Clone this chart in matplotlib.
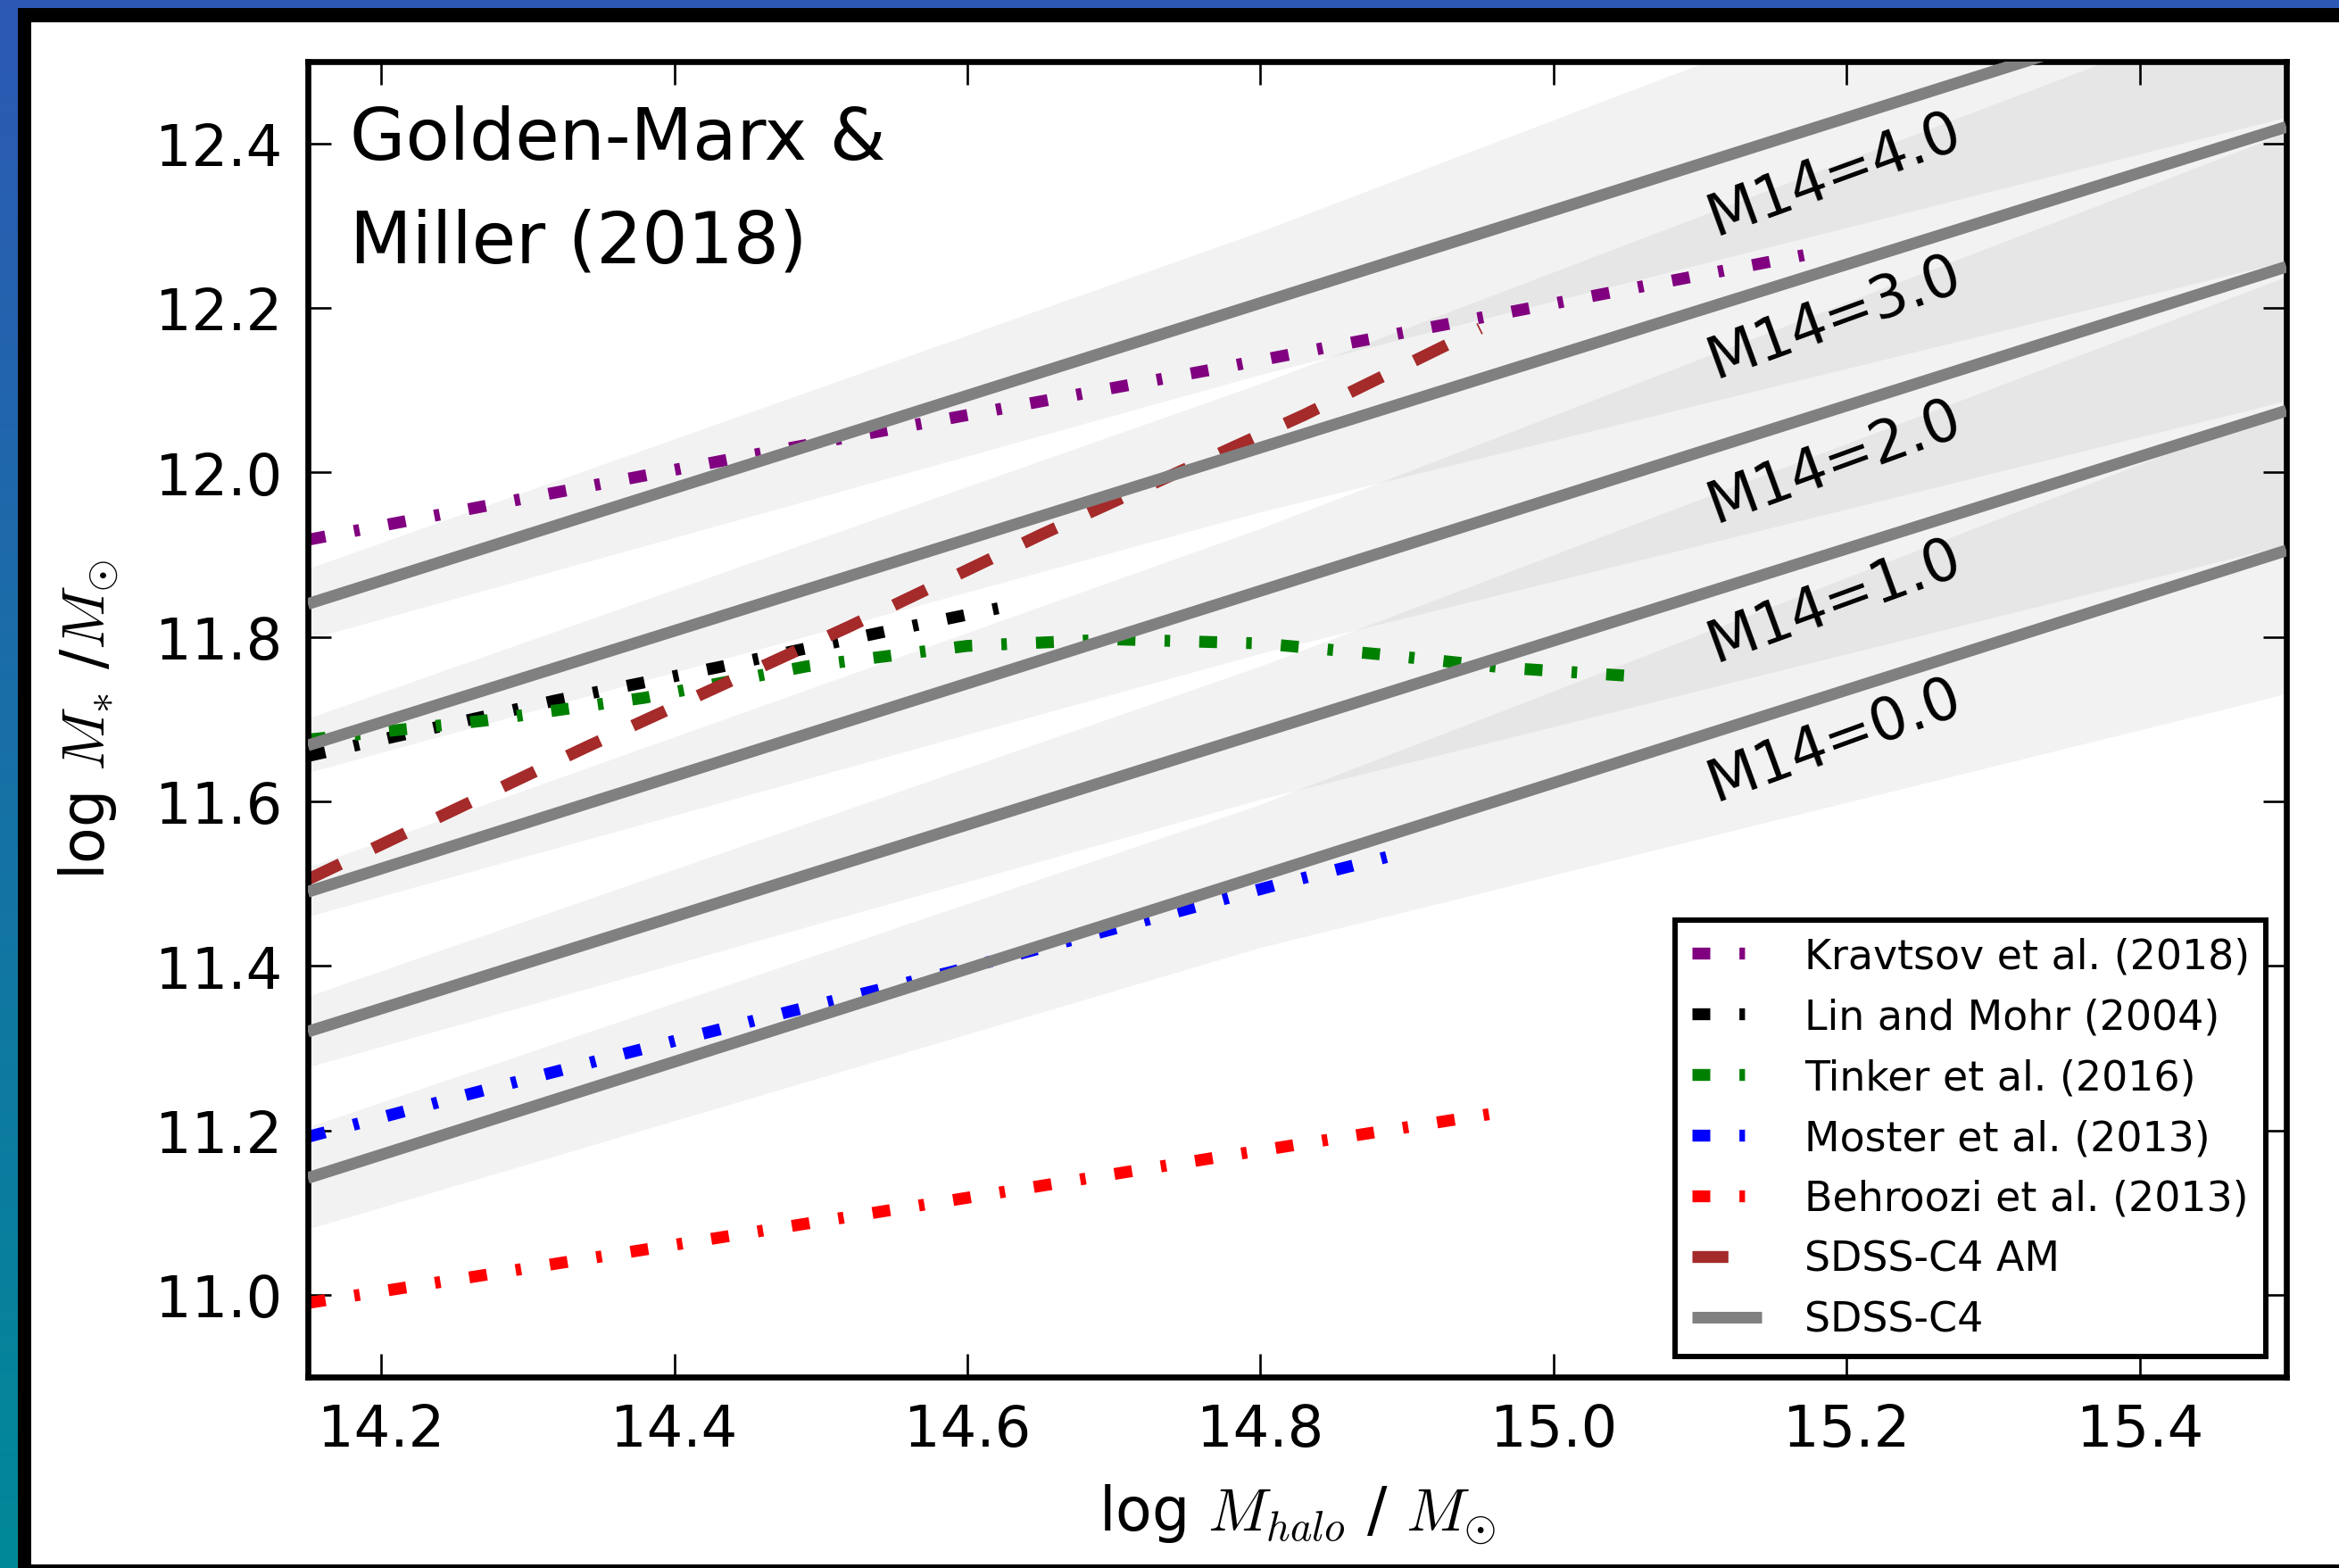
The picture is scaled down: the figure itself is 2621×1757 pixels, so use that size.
import numpy as np
import matplotlib
matplotlib.use('Agg')
import matplotlib.pyplot as plt
from matplotlib.ticker import MultipleLocator

plt.rcParams['font.family'] = ['DejaVu Sans']
plt.rcParams['mathtext.fontset'] = 'cm'
plt.rcParams['lines.scale_dashes'] = False

# SDSS-C4 relation, one straight line per magnitude gap M14
m14_values = [0.0, 1.0, 2.0, 3.0, 4.0]
c4_x = [14.15, 15.5]
c4_y = [[11.142, 11.905],
        [11.320, 12.075],
        [11.490, 12.250],
        [11.668, 12.420],
        [11.840, 12.600]]
# half width of the shaded band around each line
band_x = [14.15, 14.8, 15.5]
band_hw = [[0.062, 0.087, 0.174],
           [0.043, 0.081, 0.163],
           [0.030, 0.076, 0.163],
           [0.033, 0.078, 0.163],
           [0.043, 0.087, 0.168]]
# label positions for the M14 annotations
m14_lab_x = [15.192, 15.192, 15.192, 15.192, 15.192]
m14_lab_y = [11.674, 11.844, 12.013, 12.189, 12.363]

kravtsov_x = [14.15, 14.45, 14.77, 15.185]
kravtsov_y = [11.918, 12.020, 12.126, 12.269]
linmohr_x = [14.15, 14.32, 14.43, 14.54, 14.63]
linmohr_y = [11.655, 11.723, 11.763, 11.805, 11.838]
tinker_x = [14.15, 14.27, 14.38, 14.49, 14.60, 14.70, 14.80, 14.88, 14.97, 15.065]
tinker_y = [11.675, 11.698, 11.726, 11.764, 11.789, 11.797, 11.792, 11.779, 11.762, 11.751]
moster_x = [14.15, 14.26, 14.37, 14.48, 14.59, 14.70, 14.81, 14.89]
moster_y = [11.192, 11.244, 11.295, 11.345, 11.393, 11.445, 11.498, 11.534]
behroozi_x = [14.15, 14.38, 14.60, 14.77, 14.968]
behroozi_y = [10.990, 11.055, 11.118, 11.167, 11.223]
am_x = [14.15, 14.34, 14.52, 14.65, 14.83, 14.95]
am_y = [11.505, 11.666, 11.813, 11.924, 12.070, 12.175]

W, H = 2621, 1758
fig = plt.figure(figsize=(W / 100, H / 100), dpi=100, facecolor='white')

# slide decoration: blue gradient strips and black frame
bg = fig.add_axes([0, 0, 1, 1], zorder=-10)
bg.set_xlim(0, W)
bg.set_ylim(H, 0)
bg.axis('off')
grad = np.linspace(0, 1, 256)[:, None]
top_c = np.array([45, 89, 180]) / 255.
bot_c = np.array([0, 137, 152]) / 255.
strip = top_c[None, None, :] * (1 - grad[:, :, None]) + bot_c[None, None, :] * grad[:, :, None]
bg.imshow(strip, extent=(0, 20, H, 0), aspect='auto')
bg.add_patch(plt.Rectangle((0, 0), W, 10, color=top_c, lw=0))
bg.add_patch(plt.Rectangle((20, 10), W - 20, 16, color='black', lw=0))
bg.add_patch(plt.Rectangle((20, 10), 15, H - 10, color='black', lw=0))
bg.add_patch(plt.Rectangle((20, H - 4), W - 20, 4, color='black', lw=0))

ax = fig.add_axes([345 / W, 1 - 1544 / H, (2562 - 345) / W, (1544 - 69.5) / H])

dd = (0, (14.4, 23.5, 4.5, 23.5))
lw = 9.6
h_k, = ax.plot(kravtsov_x, kravtsov_y, color='purple', lw=lw, ls=dd,
               label='Kravtsov et al. (2018)')
h_l, = ax.plot(linmohr_x, linmohr_y, color='black', lw=lw, ls=dd,
               label='Lin and Mohr (2004)')
h_t, = ax.plot(tinker_x, tinker_y, color='green', lw=lw, ls=dd,
               label='Tinker et al. (2016)')
h_m, = ax.plot(moster_x, moster_y, color='blue', lw=lw, ls=dd,
               label='Moster et al. (2013)')
h_b, = ax.plot(behroozi_x, behroozi_y, color='red', lw=lw, ls=dd,
               label='Behroozi et al. (2013)')
h_a, = ax.plot(am_x, am_y, color='brown', lw=lw, ls=(0, (29, 29)),
               label='SDSS-C4 AM')

bx = np.array(band_x)
for i, m14 in enumerate(m14_values):
    yl = np.interp(bx, c4_x, c4_y[i])
    hw = np.array(band_hw[i])
    ax.fill_between(bx, yl - hw, yl + hw, color='gray', alpha=0.1, lw=0, zorder=0.5)
    h_c, = ax.plot(c4_x, c4_y[i], color='gray', lw=9.4, solid_capstyle='butt',
                   label='SDSS-C4', zorder=3)
    ax.text(m14_lab_x[i], m14_lab_y[i], 'M14=%.1f' % m14, fontsize=47,
            rotation=20, ha='center', va='center', rotation_mode='anchor')

ax.text(0.021, 0.967, 'Golden-Marx &\nMiller (2018)', transform=ax.transAxes,
        fontsize=58, ha='left', va='top', linespacing=1.62)

ax.set_xlim(14.15, 15.5)
ax.set_ylim(10.9, 12.5)
ax.xaxis.set_major_locator(MultipleLocator(0.2))
ax.yaxis.set_major_locator(MultipleLocator(0.2))
ax.tick_params(which='both', direction='in', top=True, right=True,
               length=19, width=1.9, labelsize=46)
ax.tick_params(axis='x', pad=20)
ax.tick_params(axis='y', pad=21)
for sp in ax.spines.values():
    sp.set_linewidth(4.8)

ax.set_xlabel(r'log $M_{halo}$ / $M_{\odot}$', fontsize=48, labelpad=20)
ax.set_ylabel(r'log $M_{*}$ /$M_{\odot}$', fontsize=48, labelpad=28)

leg = ax.legend(handles=[h_k, h_l, h_t, h_m, h_b, h_a, h_c], loc='lower right',
                fontsize=33, fancybox=False, framealpha=1, edgecolor='black',
                handlelength=1.7, handletextpad=1.05, labelspacing=0.5,
                borderpad=0.4)
leg.get_frame().set_linewidth(4.3)

fig.savefig('out.png', dpi=100, facecolor='white')
